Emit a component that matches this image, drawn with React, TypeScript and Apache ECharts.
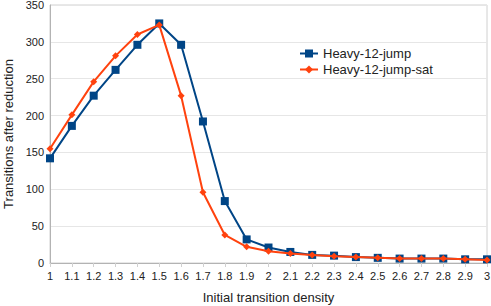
import React, { useEffect, useRef } from "react";
import * as echarts from "echarts";

const categories = ["1", "1.1", "1.2", "1.3", "1.4", "1.5", "1.6", "1.7", "1.8", "1.9", "2", "2.1", "2.2", "2.3", "2.4", "2.5", "2.6", "2.7", "2.8", "2.9", "3"];
const heavyJump = [142, 186, 227, 262, 296, 325, 296, 192, 84, 32, 21, 15, 11, 10, 8, 7, 6, 6, 6, 5, 5];
const heavyJumpSat = [155, 201, 246, 281, 310, 323, 227, 96, 38, 22, 16, 13, 11, 9, 8, 7, 6, 6, 6, 5, 4];
const yTicks = { min: 0, max: 350, interval: 50 };

export default function App() {
  const ref = useRef<HTMLDivElement>(null);
  useEffect(() => {
    if (!ref.current) return;
    const chart = echarts.init(ref.current, undefined, { renderer: "svg" });
    const font = "Liberation Sans";
    chart.setOption({
      animation: false,
      textStyle: { fontFamily: font },
      grid: {
        left: 50, right: 4, top: 5, bottom: 43,
        outerBoundsMode: "none", containLabel: false,
        show: true, borderColor: "#d0d0d0", borderWidth: 1,
      },
      legend: {
        orient: "vertical",
        left: 294,
        top: 42,
        itemWidth: 18,
        itemHeight: 10,
        itemGap: 3,
        textStyle: { fontFamily: font, fontSize: 13, color: "#222" },
        data: ["Heavy-12-jump", "Heavy-12-jump-sat"],
      },
      xAxis: {
        type: "category",
        data: categories,
        boundaryGap: false,
        name: "Initial transition density",
        nameLocation: "middle",
        nameGap: 28,
        nameTextStyle: { fontFamily: font, fontSize: 13, color: "#222" },
        axisLine: { lineStyle: { color: "#b3b3b3" } },
        axisTick: { show: true, length: 4, lineStyle: { color: "#d0d0d0" } },
        axisLabel: { fontFamily: font, fontSize: 11, color: "#222", margin: 7, interval: 0 },
        splitLine: { show: false },
      },
      yAxis: {
        type: "value",
        min: yTicks.min,
        max: yTicks.max,
        interval: yTicks.interval,
        name: "Transitions after reduction",
        nameLocation: "middle",
        nameGap: 33,
        nameTextStyle: { fontFamily: font, fontSize: 13, color: "#222" },
        axisLine: { show: true, lineStyle: { color: "#b3b3b3" } },
        axisTick: { show: false },
        axisLabel: { fontFamily: font, fontSize: 11, color: "#222", margin: 6 },
        splitLine: { lineStyle: { color: "#e6e6e6" } },
      },
      series: [
        {
          name: "Heavy-12-jump",
          type: "line",
          data: heavyJump,
          symbol: "rect",
          symbolSize: 8,
          lineStyle: { color: "#004586", width: 2 },
          itemStyle: { color: "#004586" },
          z: 2,
        },
        {
          name: "Heavy-12-jump-sat",
          type: "line",
          data: heavyJumpSat,
          symbol: "diamond",
          symbolSize: 7,
          lineStyle: { color: "#ff420e", width: 2 },
          itemStyle: { color: "#ff420e" },
          z: 3,
        },
      ],
    });
    return () => chart.dispose();
  }, []);
  return <div ref={ref} style={{ width: 491, height: 306, position: "absolute", left: 0, top: 0, background: "#fff" }} />;
}
